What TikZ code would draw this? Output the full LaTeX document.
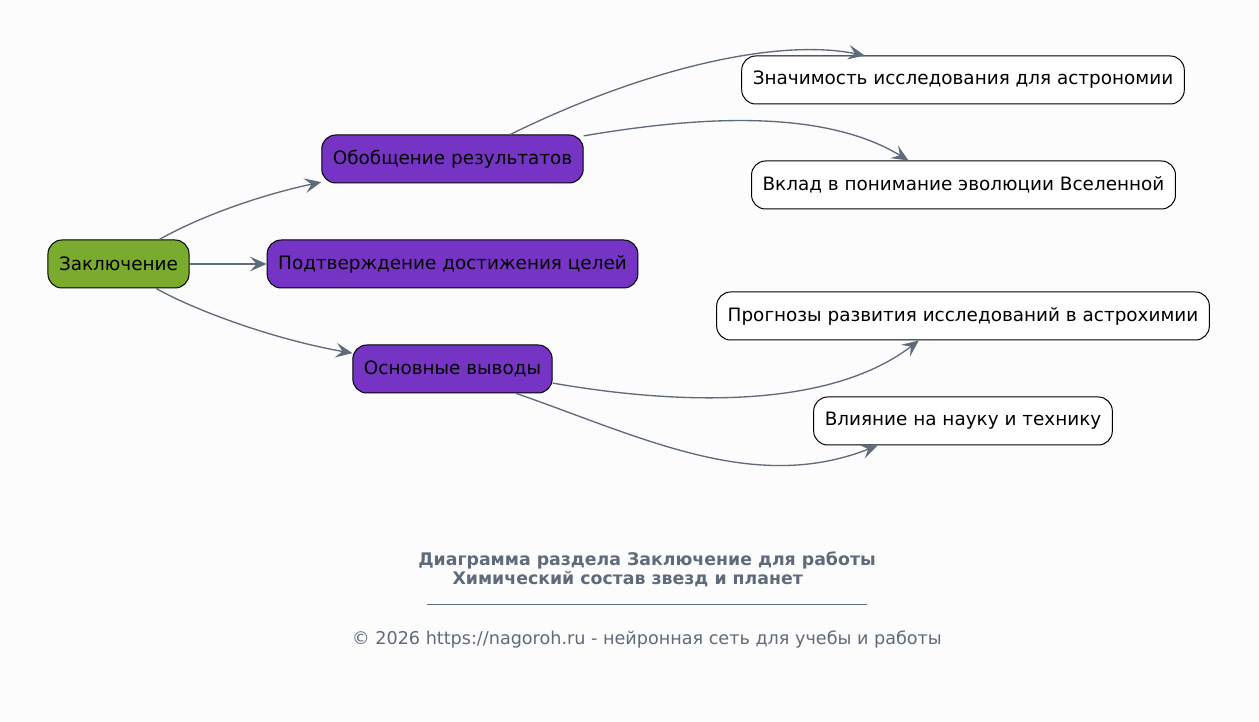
\documentclass[tikz,border=0pt]{standalone}
\usepackage{fontspec}
\setmainfont{DejaVu Sans}
\usetikzlibrary{arrows.meta}
\definecolor{edgegray}{HTML}{5F6B7A}
\definecolor{rootgreen}{HTML}{7AAA2E}
\definecolor{midpurple}{HTML}{7634C4}
\definecolor{bgpaper}{HTML}{FCFCFC}

\begin{document}
\begin{tikzpicture}[x=0.75pt,y=0.75pt,
    box/.style={draw=black,line width=0.75pt,rounded corners=10.5pt,
      minimum height=36pt,inner xsep=8.3pt,font=\fontsize{13.8}{17}\selectfont},
    rootbox/.style={box,fill=rootgreen},
    midbox/.style={box,fill=midpurple},
    leafbox/.style={box,fill=white},
    link/.style={draw=edgegray,line width=1pt,
      -{Stealth[length=12.5pt,width=11pt,inset=5pt]}}]
  \fill[bgpaper] (0,0) rectangle (1259,721);
  \useasboundingbox (0,0) rectangle (1259,721);

  % root and first level
  \node[rootbox] (concl) at (118.5,457) {Заключение};
  \node[midbox] (obob) at (452.5,562) {Обобщение результатов};
  \node[midbox] (podt) at (452.5,457) {Подтверждение достижения целей};
  \node[midbox] (osn) at (452.5,352) {Основные выводы};

  % leaves
  \node[leafbox] (znach) at (963,641) {Значимость исследования для астрономии};
  \node[leafbox] (vklad) at (963.5,536) {Вклад в понимание эволюции Вселенной};
  \node[leafbox] (progn) at (963,405) {Прогнозы развития исследований в астрохимии};
  \node[leafbox] (vliy) at (963,300) {Влияние на науку и технику};

  \draw[link] (concl.31) .. controls +(37,21) and +(-66,-14) .. (obob.190);
  \draw[link] (concl.east) -- (podt.west);
  \draw[link] (concl.-33) .. controls +(37,-21) and +(-80,14) .. (osn.171);
  \draw[link] (obob.23) .. controls +(130,64) and +(-90,18) .. (znach.166);
  \draw[link] (obob.10) .. controls +(95,16) and +(-92,56) .. (vklad.156);
  \draw[link] (osn.-8) .. controls +(97,-17) and +(-99,-76) .. (progn.209);
  \draw[link] (osn.-21) .. controls +(124,-43) and +(-124,-49) .. (vliy.196);

  % caption
  \node[text=edgegray,font=\fontsize{13}{14}\selectfont\bfseries,align=center]
    (title) at (647,152) {Диаграмма раздела Заключение для работы\\
    Химический состав звезд и планет\hspace*{29pt}};
  \coordinate (ruleL) at (427,117);
  \coordinate (ruleR) at (867,117);
  \draw[edgegray,line width=0.5pt] (ruleL) -- (ruleR);
  \node[text=edgegray,font=\fontsize{13.2}{15}\selectfont]
    (copy) at (647,82) {© 2026 https://nagoroh.ru - нейронная сеть для учебы и работы};
\end{tikzpicture}
\end{document}
